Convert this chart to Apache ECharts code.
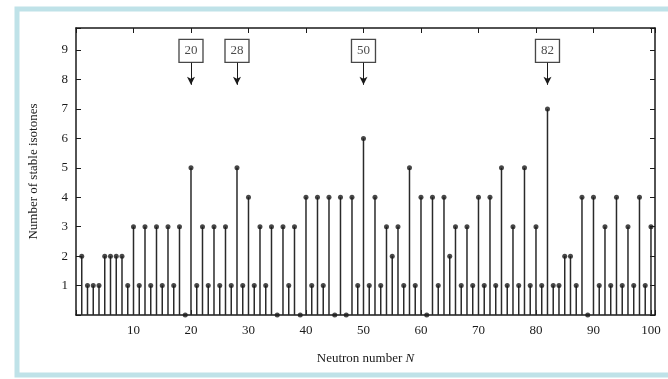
<!DOCTYPE html>
<html>
<head>
<meta charset="utf-8">
<script src="https://cdn.jsdelivr.net/npm/echarts@6/dist/echarts.min.js"></script>
<style>
  html, body { margin: 0; padding: 0; background: #fff; }
  #chart { width: 668px; height: 379px; }
</style>
</head>
<body>
<div id="chart"></div>
<script>
// number of stable isotones for N = 1 .. 100
const isotones = [
  2, 1, 1, 1, 2, 2, 2, 2, 1, 3,
  1, 3, 1, 3, 1, 3, 1, 3, 0, 5,
  1, 3, 1, 3, 1, 3, 1, 5, 1, 4,
  1, 3, 1, 3, 0, 3, 1, 3, 0, 4,
  1, 4, 1, 4, 0, 4, 0, 4, 1, 6,
  1, 4, 1, 3, 2, 3, 1, 5, 1, 4,
  0, 4, 1, 4, 2, 3, 1, 3, 1, 4,
  1, 4, 1, 5, 1, 3, 1, 5, 1, 3,
  1, 7, 1, 1, 2, 2, 1, 4, 0, 4,
  1, 3, 1, 4, 1, 3, 1, 4, 1, 3
]
const magicNumbers = [20, 28, 50, 82]
const xTicks = [10, 20, 30, 40, 50, 60, 70, 80, 90, 100]
const yTicks = [1, 2, 3, 4, 5, 6, 7, 8, 9]

const points = isotones.map((v, i) => [i + 1, v])
const font = 'Liberation Serif'
const ink = '#1a1a1a'

const chart = echarts.init(document.getElementById('chart'))

// shared look for the four frame axes
const frameLine = { show: true, onZero: false, lineStyle: { color: ink, width: 1.5 } }
const frameTick = { show: true, inside: true, length: 5, lineStyle: { color: ink } }

const option = {
  animation: false,
  graphic: [
    {
      type: 'rect',
      shape: { x: 17, y: 9, width: 700, height: 366 },
      style: { fill: '#fff', stroke: '#bfe2e8', lineWidth: 5 },
      z: -10
    }
  ],
  grid: { left: 76, right: 13, top: 28, bottom: 64 },
  xAxis: [
    {
      type: 'value',
      min: 0,
      max: 100.7,
      interval: 10,
      name: 'Neutron number {i|N}',
      nameLocation: 'middle',
      nameGap: 37,
      nameTextStyle: {
        color: ink, fontFamily: font, fontSize: 13,
        rich: { i: { fontStyle: 'italic', fontFamily: font, fontSize: 13, color: ink } }
      },
      axisLine: frameLine,
      axisTick: frameTick,
      axisLabel: {
        color: ink, fontFamily: font, fontSize: 13, margin: 9,
        formatter: v => (xTicks.includes(v) ? v : '')
      },
      splitLine: { show: false }
    },
    {
      type: 'value',
      position: 'top',
      min: 0,
      max: 100.7,
      interval: 10,
      axisLine: frameLine,
      axisTick: frameTick,
      axisLabel: { show: false },
      splitLine: { show: false }
    }
  ],
  yAxis: [
    {
      type: 'value',
      min: 0,
      max: 9.75,
      interval: 1,
      name: 'Number of stable isotones',
      nameLocation: 'middle',
      nameGap: 36,
      nameTextStyle: { color: ink, fontFamily: font, fontSize: 13 },
      axisLine: frameLine,
      axisTick: frameTick,
      axisLabel: {
        color: ink, fontFamily: font, fontSize: 13, margin: 8,
        formatter: v => (yTicks.includes(v) ? v : '')
      },
      splitLine: { show: false }
    },
    {
      type: 'value',
      position: 'right',
      min: 0,
      max: 9.75,
      interval: 1,
      axisLine: frameLine,
      axisTick: frameTick,
      axisLabel: { show: false },
      splitLine: { show: false }
    }
  ],
  series: [
    {
      type: 'bar',
      data: points,
      barWidth: 1.5,
      itemStyle: { color: '#2a2a2a' },
      silent: true
    },
    {
      type: 'scatter',
      data: points,
      symbol: 'circle',
      symbolSize: 5,
      itemStyle: { color: ink },
      silent: true
    },
    {
      type: 'scatter',
      data: magicNumbers.map(n => [n, 8.97]),
      symbol: 'rect',
      symbolSize: [24, 23],
      itemStyle: { color: '#fff', borderColor: ink, borderWidth: 1.3 },
      label: {
        show: true,
        position: 'inside',
        formatter: p => p.value[0],
        color: ink,
        fontFamily: font,
        fontSize: 13
      },
      markLine: {
        silent: true,
        symbol: ['none', 'arrow'],
        symbolSize: [6, 8],
        label: { show: false },
        lineStyle: { color: ink, width: 1, type: 'solid' },
        data: magicNumbers.map(n => [
          { coord: [n, 8.58] },
          { coord: [n, 7.82] }
        ])
      },
      z: 5
    }
  ]
}

chart.setOption(option)

window.addEventListener('resize', () => {
  chart.resize()
})
</script>
</body>
</html>
